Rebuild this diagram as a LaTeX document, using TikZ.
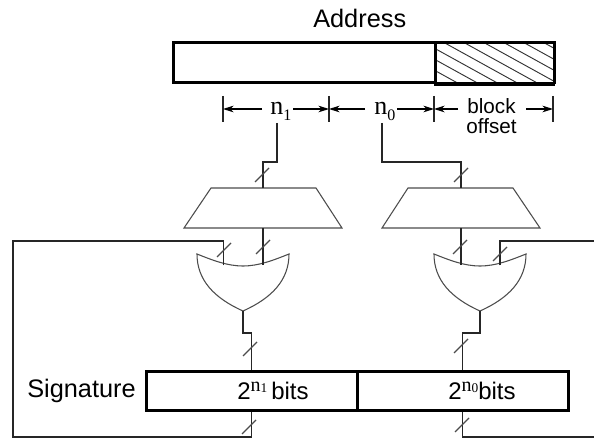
\documentclass[tikz,border=0pt]{standalone}
\usepackage{fontspec}
\setmainfont{Liberation Sans}
\newfontfamily\serifn{Liberation Serif}
\usetikzlibrary{arrows.meta,calc}
\tikzset{
	wire/.style={line width=1pt,black!85},
	thinwire/.style={line width=0.8pt,black!70},
	heavybox/.style={draw,line width=1.9pt,minimum height=#1,inner sep=0pt,anchor=south west},
	tick/.style={line width=0.8pt,black!85},
	dimarrow/.style={line width=0.8pt,-{Stealth[length=8pt,width=5pt]}},
	lbl/.style={inner sep=0pt,anchor=base west,font=\fontsize{19}{19}\selectfont},
	bitslbl/.style={inner sep=0pt,anchor=base west,font=\fontsize{18}{18}\selectfont},
	nlbl/.style={inner sep=0pt,anchor=base west,font=\serifn\fontsize{19.5}{19.5}\selectfont},
	gate/.pic={
		\draw[thinwire] (0,0) .. controls (15,6) and (30,12) .. (46,12)
		.. controls (62,12) and (77,6) .. (92,0)
		.. controls (92,26) and (75,44) .. (46,57)
		.. controls (17,44) and (0,26) .. cycle;
		\coordinate (-a) at (26.5,11.5);
		\coordinate (-b) at (66,11.5);
		\coordinate (-out) at (46,57);
	},
}
\newcommand{\busslash}[1]{\draw[thinwire] ($(#1)+(-7,7)$) -- ($(#1)+(7,-7)$);}
\newcommand{\nsub}[1]{n\raisebox{-4.5pt}{\fontsize{12}{12}\selectfont #1}}
\newcommand{\nsup}[1]{\raisebox{6.5pt}{\serifn\fontsize{15}{15}\selectfont n\raisebox{-1pt}{\fontsize{10}{10}\selectfont #1}}}
\begin{document}
\begin{tikzpicture}[x=0.75pt,y=-0.75pt]
	\useasboundingbox (0,0) rectangle (594,438);
	
	% address bar
	\node[lbl] (address) at (313,28) {Address};
	\begin{scope}
		\clip (434,44) rectangle (553,84);
		\foreach \k in {-11,-10,...,3}
		\draw[line width=0.7pt,black!80] (434,48+\k*11) -- ++(125,69);
	\end{scope}
	\node[heavybox=30pt,minimum width=196.5pt] (addrbar) at (172,84) {};
	\node[heavybox=30pt,minimum width=89.25pt,line width=1.5pt] (hatchbar) at (434,84) {};
	\draw[line width=2.6pt] (hatchbar.south west) -- (hatchbar.south east);
	\draw[line width=1.9pt] (hatchbar.north west) -- (hatchbar.north east) -- (hatchbar.south east);
	
	% dimension marks
	\foreach \xa/\name in {223/ma,329/mb,434/mc,553/md}{
		\draw[tick] (\xa,96) -- (\xa,122);
		\coordinate (\name) at (\xa,109);
	}
	\foreach \name/\len in {ma/39,mb/-36,mb/36,mc/-37,mc/24,md/-27}
	\draw[dimarrow] ($(\name)+(\len,0)$) -- (\name);
	\node[nlbl] (none) at (270,115) {\nsub{1}};
	\node[nlbl] (nzero) at (374,115) {\nsub{0}};
	\node[inner sep=0pt,font=\fontsize{15.5}{15}\selectfont,align=center] (offset) at (491.5,116) {block\\offset};
	
	% decoders
	\draw[thinwire] (211,188) -- (316,188) -- (342,228) -- (184,228) -- cycle;
	\draw[thinwire] (408,188) -- (513,188) -- (540,228) -- (382,228) -- cycle;
	\coordinate (tapone) at (277,123);
	\coordinate (taptwo) at (382,123);
	\coordinate (decone) at (263,188);
	\coordinate (dectwo) at (461,188);
	\coordinate (deconeb) at (263,228);
	\coordinate (dectwob) at (461,228);
	\draw[wire] (tapone) -- ++(0,39) -| (decone);
	\draw[wire] (taptwo) -- ++(0,39) -| (dectwo);
	\busslash{262,175}
	\busslash{461,175}
	
	% gates
	\pic (gateone) at (197,254) {gate};
	\pic (gatetwo) at (434,254) {gate};
	\node[heavybox=29.25pt,minimum width=158.25pt] (sigone) at (145,412) {};
	\node[heavybox=29.25pt,minimum width=158.25pt] (sigzero) at (356,412) {};
	\coordinate (leftbus) at (13,241);
	\coordinate (leftbot) at (13,437);
	\coordinate (rightbus) at (594,241);
	\coordinate (rightbot) at (594,437);
	\draw[wire] (deconeb) -- (deconeb |- gateone-b);
	\draw[wire] (dectwob) -- (dectwob |- gatetwo-a);
	\draw[wire] (gateone-a) |- (leftbus) -- (leftbot) -| (sigone.south);
	\draw[wire] (gatetwo-b) |- (rightbus);
	\draw[wire] (sigzero.south) |- (rightbot);
	\draw[wire] (gateone-out) -- ++(0,22) -| (sigone.north);
	\draw[wire] (gatetwo-out) -- ++(0,22) -| (sigzero.north);
	\foreach \pos in {{224,250},{263,247},{460,247},{500,254},{250,349},{461,346},{249,427},{462,425}}{
		\busslash{\pos}
	}
	
	% signature
	\node[lbl] (signature) at (27,398) {Signature};
	\node[bitslbl] (bitsone) at (237,400) {2\nsup{1}\,bits};
	\node[bitslbl] (bitszero) at (448,400) {2\nsup{0}bits};
\end{tikzpicture}
\end{document}
